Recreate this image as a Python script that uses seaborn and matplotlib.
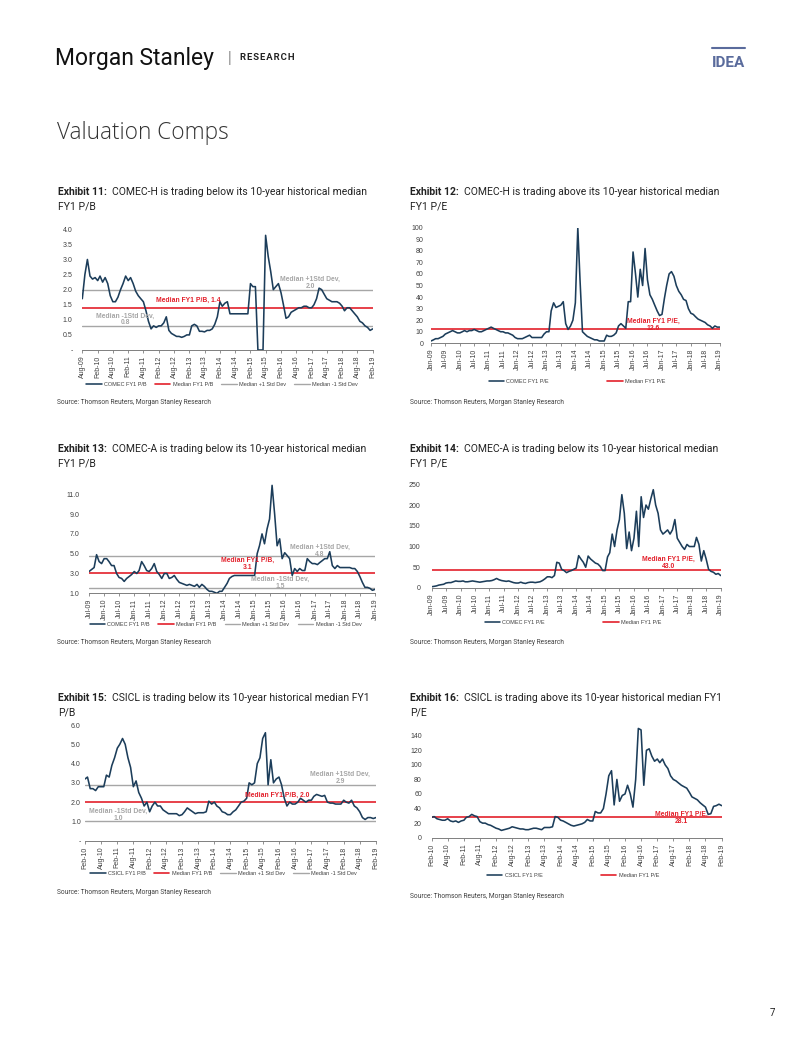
import numpy as np
import pandas as pd
import matplotlib
matplotlib.use("Agg")
import matplotlib.pyplot as plt
import matplotlib.dates as mdates
from matplotlib.lines import Line2D
import seaborn as sns

# monthly readings off the exhibits
comec_h_pb = [1.7, 2.5, 3.0, 2.45, 2.35,
              2.4, 2.3, 2.45, 2.25, 2.4, 2.2, 1.8, 1.6, 1.6, 1.75, 2.0, 2.2,
              2.45, 2.3, 2.4, 2.2, 1.95, 1.8, 1.7, 1.6, 1.3, 0.95, 0.7, 0.8,
              0.75, 0.8, 0.8, 0.9, 1.1, 0.65, 0.55, 0.5, 0.45, 0.45, 0.42, 0.45,
              0.5, 0.5, 0.8, 0.85, 0.8, 0.62, 0.62, 0.6, 0.65, 0.65, 0.7, 0.85,
              1.1, 1.6, 1.45, 1.55, 1.6, 1.2, 1.2, 1.2, 1.2, 1.2, 1.2, 1.2,
              1.2, 2.2, 2.1, 2.1, 0, 0, 0, 3.8, 3.1, 2.6, 2.0, 2.1,
              2.2, 1.9, 1.5, 1.05, 1.1, 1.25, 1.3, 1.35, 1.4, 1.4, 1.45, 1.45,
              1.4, 1.4, 1.5, 1.7, 2.05, 2.0, 1.85, 1.7, 1.65, 1.6, 1.6, 1.6,
              1.55, 1.45, 1.3, 1.4, 1.4, 1.3, 1.2, 1.1, 0.95, 0.9, 0.8, 0.75,
              0.65, 0.7]
comec_h_pe = [2, 3, 4, 4, 5, 6, 8, 9, 10, 11, 10, 9,
              9, 10, 11, 10, 11, 11, 12, 11, 10, 10, 11, 12,
              13, 14, 13, 12, 11, 10, 10, 9, 9, 8, 7, 5,
              4, 4, 4, 5, 6, 7, 5, 5, 5, 5, 5, 8,
              10, 10, 28, 35, 31, 32, 33, 36, 17, 12, 15, 20,
              35, 100, 55, 10, 8, 6, 5, 4, 3, 3, 2, 2,
              2, 7, 6, 6, 7, 9, 15, 17, 15, 13, 36, 36,
              79, 60, 40, 64, 50, 82, 55, 42, 38, 33, 28, 24,
              25, 39, 50, 60, 62, 58, 50, 45, 42, 38, 37, 30,
              26, 25, 23, 21, 20, 19, 18, 16, 15, 13, 15, 14,
              14]
comec_a_pb = [3.2, 3.4, 3.6, 4.9, 4.2, 4.0,
              4.5, 4.5, 4.2, 3.8, 3.8, 3.0, 2.6, 2.5, 2.2, 2.5, 2.7, 2.9,
              3.2, 3.0, 3.3, 4.2, 3.8, 3.3, 3.2, 3.5, 4.0, 3.2, 2.9, 2.5,
              3.0, 3.0, 2.5, 2.6, 2.8, 2.4, 2.1, 2.0, 1.9, 1.8, 1.9, 1.8,
              1.7, 1.9, 1.6, 1.9, 1.7, 1.4, 1.2, 1.2, 1.1, 1.0, 1.2, 1.2,
              1.6, 2.0, 2.5, 2.7, 2.8, 2.8, 2.8, 2.8, 2.8, 2.8, 2.8, 2.8,
              2.8, 5.0, 5.8, 7.0, 6.0, 7.5, 8.5, 11.9, 9.0, 5.8, 6.5, 4.5,
              5.1, 4.8, 4.5, 2.8, 3.5, 3.2, 3.5, 3.3, 3.3, 4.5, 4.2, 4.0,
              4.0, 3.9, 4.1, 4.3, 4.5, 4.5, 5.2, 3.8, 3.5, 3.8, 3.6, 3.6,
              3.6, 3.6, 3.6, 3.5, 3.5, 3.2, 2.7, 2.1, 1.6, 1.6, 1.5, 1.3,
              1.4]
comec_a_pe = [3, 4, 5, 7, 8, 9, 12, 13, 13, 15, 17, 16,
              16, 17, 15, 15, 16, 17, 16, 15, 14, 15, 16, 17,
              17, 18, 20, 23, 20, 18, 17, 16, 17, 15, 13, 12,
              12, 14, 12, 11, 13, 14, 14, 13, 14, 15, 18, 22,
              27, 27, 25, 30, 62, 60, 45, 42, 37, 40, 42, 45,
              48, 78, 70, 62, 50, 77, 70, 65, 60, 58, 52, 42,
              42, 75, 85, 130, 100, 140, 165, 225, 180, 95, 135, 90,
              120, 185, 100, 220, 170, 200, 190, 215, 237, 200, 180, 140,
              130, 135, 140, 130, 140, 165, 120, 110, 100, 93, 105, 100,
              100, 100, 122, 105, 65, 90, 70, 45, 40, 38, 33, 35,
              30]
csicl_pb = [3.2, 3.3, 2.7, 2.7, 2.6, 2.8, 2.8, 2.8, 3.4, 3.3, 3.9,
            4.3, 4.8, 5.0, 5.3, 5.0, 4.3, 3.8, 2.8, 3.1, 2.5, 2.2, 1.8,
            2.0, 1.5, 1.8, 2.0, 1.8, 1.8, 1.6, 1.5, 1.4, 1.4, 1.4, 1.4,
            1.3, 1.35, 1.5, 1.7, 1.6, 1.5, 1.4, 1.45, 1.45, 1.45, 1.5, 2.05,
            1.9, 2.0, 1.8, 1.7, 1.5, 1.45, 1.35, 1.35, 1.5, 1.6, 1.8, 2.0,
            2.05, 2.2, 3.0, 2.9, 3.0, 4.0, 4.3, 5.3, 5.6, 2.9, 4.2, 3.0,
            3.2, 3.3, 2.9, 2.2, 1.8, 2.0, 1.9, 1.9, 2.0, 2.2, 2.1, 2.0,
            2.1, 2.1, 2.3, 2.4, 2.35, 2.3, 2.35, 2.0, 1.95, 1.95, 1.9, 1.9,
            1.9, 2.1, 2.0, 1.95, 2.1, 1.8, 1.7, 1.5, 1.2, 1.1, 1.2, 1.2,
            1.15, 1.2]
csicl_pe = [28, 29, 26, 25, 24, 24, 26, 23, 22, 23, 21,
            23, 24, 28, 29, 32, 30, 29, 22, 20, 20, 18, 17,
            15, 13, 12, 10, 11, 12, 13, 15, 14, 13, 12, 12,
            11, 11, 12, 13, 13, 12, 11, 14, 14, 14, 15, 29,
            28, 24, 23, 21, 19, 17, 16, 17, 18, 19, 21, 25,
            23, 23, 36, 34, 34, 40, 60, 85, 92, 45, 80, 50,
            58, 60, 72, 60, 42, 80, 150, 148, 72, 120, 122, 112,
            105, 108, 103, 108, 100, 95, 85, 80, 78, 75, 72, 70,
            68, 62, 56, 54, 52, 48, 45, 42, 32, 33, 43, 44,
            46, 44]

NAVY = "#1C3D5A"
RED = "#E3202B"
GREY = "#A6A6A6"
TXT = "#404040"

sns.set_theme(style="white")
plt.rcParams["font.family"] = ["Liberation Sans", "DejaVu Sans"]

W, H = 802, 1037
fig = plt.figure(figsize=(W / 100, H / 100), dpi=100)
fig.patch.set_facecolor("white")


def px(x, y):
    return x / W, 1 - y / H


def panel(box, start, vals, name, ylim, yticks, ylabels, t0, t1, hlines, ypad):
    l, t, r, b = box
    ax = fig.add_axes([l / W, 1 - b / H, (r - l) / W, (b - t) / H])
    df = pd.DataFrame({"date": pd.date_range(start, periods=len(vals), freq="MS"),
                       "value": vals})
    sns.lineplot(data=df, x="date", y="value", ax=ax, color=NAVY, lw=1.15,
                 label=name, zorder=3)
    for lab, v, c, lw in hlines:
        ax.axhline(v, color=c, lw=lw, label=lab, zorder=2)
    ticks = pd.date_range(t0, t1, freq="6MS")
    ax.set_xlim(ticks[0], ticks[-1])
    ax.set_xticks(ticks)
    ax.xaxis.set_major_formatter(mdates.DateFormatter("%b-%y"))
    ax.set_ylim(*ylim)
    ax.set_yticks(yticks)
    ax.set_yticklabels(ylabels)
    ax.set(xlabel="", ylabel="")
    for s in ["top", "right", "left"]:
        ax.spines[s].set_visible(False)
    ax.spines["bottom"].set_color("#7F7F7F")
    ax.spines["bottom"].set_linewidth(0.7)
    ax.tick_params(axis="x", labelsize=5, labelrotation=90, length=2.5, width=0.6,
                   color="#7F7F7F", pad=1.5, labelcolor=TXT, bottom=True)
    ax.tick_params(axis="y", labelsize=5, length=0, pad=ypad, labelcolor=TXT)
    ax.patch.set_alpha(0)
    return ax


def legend(ax, cx, cy, cs):
    h, lab = ax.get_legend_handles_labels()
    ax.legend(h, lab, loc="center", bbox_to_anchor=px(cx, cy),
              bbox_transform=fig.transFigure, ncol=len(lab), frameon=False,
              fontsize=4, handlelength=2.8, columnspacing=cs, handletextpad=0.4,
              labelcolor=TXT)


def note(x, y, s, c):
    fig.text(*px(x, y), s, ha="center", va="center", fontsize=4.9,
             weight="bold", color=c, linespacing=1.0)


renderer = fig.canvas.get_renderer()


def title(x, y, num, rest, line2):
    t = fig.text(*px(x, y), f"Exhibit {num}:", fontsize=7.5, weight="bold",
                 family="Roboto", va="center", color="#222222")
    bb = t.get_window_extent(renderer=renderer)
    fig.text(*px(bb.x1 + 5, y), rest, fontsize=7.5, family="Roboto",
             va="center", color="#222222")
    fig.text(*px(x, y + 14.5), line2, fontsize=7.5, family="Roboto",
             va="center", color="#222222")


def source(x, y):
    fig.text(*px(x, y), "Source: Thomson Reuters, Morgan Stanley Research",
             fontsize=4.8, family="Roboto", va="center", color=TXT)


pb_lines = lambda med, hi, lo, nm: [(f"Median FY1 {nm}", med, RED, 1.2),
                                    ("Median +1 Std Dev", hi, GREY, 1.0),
                                    ("Median -1 Std Dev", lo, GREY, 1.0)]

# header
fig.text(*px(55, 58), "Morgan Stanley", fontsize=16.5,
         family=["Liberation Sans Narrow", "Roboto"], va="center", color="#111111")
fig.text(*px(228, 58), "|", fontsize=10, va="center", color="#888888")
fig.text(*px(240, 58), "\u200a".join("RESEARCH"), fontsize=6.8,
         weight="bold", family=["Roboto", "DejaVu Sans"], va="center", color="#222222")
fig.text(*px(712, 63), "IDEA", fontsize=11, weight="bold",
         family=["Liberation Sans Narrow", "Roboto"], va="center", color="#5A6B9C")
fig.add_artist(Line2D([712 / W, 745 / W], [1 - 47.5 / H] * 2, color="#5A6B9C", lw=1.5))
fig.text(*px(57, 133), "Valuation Comps", fontsize=16.3, weight="light",
         family=["Open Sans", "Lato"], va="center", color="#333333")
fig.text(*px(770, 1013), "7", fontsize=7, family="Roboto", va="center", color="#222222")

# Exhibit 11
ax = panel((82.3, 229.3, 372.7, 350), "2009-08-01", comec_h_pb, "COMEC FY1 P/B",
           (0, 4), [0, 0.5, 1, 1.5, 2, 2.5, 3, 3.5, 4],
           ["-", "0.5", "1.0", "1.5", "2.0", "2.5", "3.0", "3.5", "4.0"],
           "2009-08-01", "2019-02-01", pb_lines(1.4, 2.0, 0.8, "P/B"), 7)
legend(ax, 222, 384, 1.5)
note(188, 300.7, "Median FY1 P/B, 1.4", RED)
note(310, 282.5, "Median +1Std Dev,\n2.0", GREY)
note(125, 319.5, "Median -1Std Dev,\n0.8", GREY)
title(58, 192, 11, "COMEC-H is trading below its 10-year historical median", "FY1 P/B")
source(57, 402.7)

# Exhibit 12
ax = panel((431, 227.7, 719.7, 343.3), "2009-01-01", comec_h_pe, "COMEC FY1 P/E",
           (0, 100), list(range(0, 101, 10)), [str(v) for v in range(0, 101, 10)],
           "2009-01-01", "2019-01-01", [("Median FY1 P/E", 12.6, RED, 1.2)], 5.5)
legend(ax, 577, 381.7, 10.5)
note(653, 324.5, "Median FY1 P/E,\n12.6", RED)
title(410, 192, 12, "COMEC-H is trading above its 10-year historical median", "FY1 P/E")
source(410, 402.7)

# Exhibit 13
ax = panel((89, 481.4, 375, 593.3), "2009-07-01", comec_a_pb, "COMEC FY1 P/B",
           (1, 12.3), [1, 3, 5, 7, 9, 11], ["1.0", "3.0", "5.0", "7.0", "9.0", "11.0"],
           "2009-07-01", "2019-01-01", pb_lines(3.1, 4.8, 1.5, "P/B"), 7)
legend(ax, 225.5, 624, 1.5)
note(248, 564.3, "Median FY1 P/B,\n3.1", RED)
note(320, 551, "Median +1Std Dev,\n4.8", GREY)
note(280, 582.5, "Median -1Std Dev,\n1.5", GREY)
title(58, 449.3, 13, "COMEC-A is trading below its 10-year historical median", "FY1 P/B")
source(57, 642)

# Exhibit 14
ax = panel((431.7, 484.3, 720.7, 588), "2009-01-01", comec_a_pe, "COMEC FY1 P/E",
           (0, 250), list(range(0, 251, 50)), [str(v) for v in range(0, 251, 50)],
           "2009-01-01", "2019-01-01", [("Median FY1 P/E", 43.0, RED, 1.2)], 8)
legend(ax, 573, 622.3, 10.5)
note(668, 563.3, "Median FY1 P/E,\n43.0", RED)
title(410, 449.3, 14, "COMEC-A is trading below its 10-year historical median", "FY1 P/E")
source(410, 642)

# Exhibit 15
ax = panel((85, 725, 376, 840.7), "2010-02-01", csicl_pb, "CSICL FY1 P/B",
           (0, 6), [0, 1, 2, 3, 4, 5, 6], ["-", "1.0", "2.0", "3.0", "4.0", "5.0", "6.0"],
           "2010-02-01", "2019-02-01", pb_lines(2.0, 2.9, 1.0, "P/B"), 3)
legend(ax, 223.5, 873.3, 1.5)
note(276.7, 795, "Median FY1 P/B, 2.0", RED)
note(340, 778, "Median +1Std Dev,\n2.9", GREY)
note(118, 815.3, "Median -1Std Dev,\n1.0", GREY)
title(58, 698, 15, "CSICL is trading below its 10-year historical median FY1", "P/B")
source(57, 892.7)

# Exhibit 16
ax = panel((431.7, 724.8, 721.7, 837.7), "2010-02-01", csicl_pe, "CSICL FY1 P/E",
           (0, 155), list(range(0, 141, 20)), [str(v) for v in range(0, 141, 20)],
           "2010-02-01", "2019-02-01", [("Median FY1 P/E", 28.1, RED, 1.2)], 7)
legend(ax, 573, 875.7, 10.5)
note(681.7, 817.8, "Median FY1 P/E,\n28.1", RED)
title(410, 698, 16, "CSICL is trading above its 10-year historical median FY1", "P/E")
source(410, 896.7)

fig.savefig("out.png", dpi=100, facecolor="white")
